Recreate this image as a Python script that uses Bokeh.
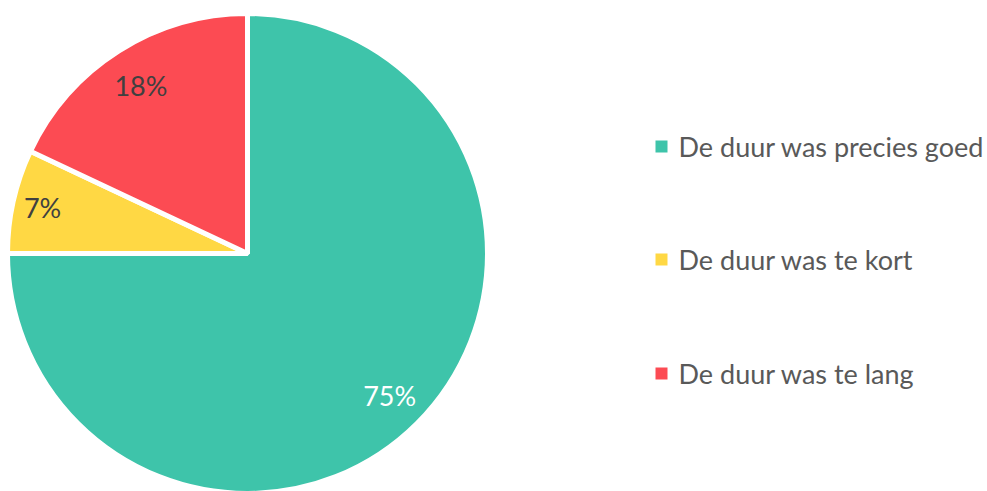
import math
from bokeh.plotting import figure
from bokeh.models import Range1d, ColumnDataSource
from bokeh.core.properties import value
from bokeh.embed import file_html
from bokeh.resources import INLINE

# ---- data ----
categories = ["De duur was precies goed", "De duur was te kort", "De duur was te lang"]
shares = [75, 7, 18]
labels = ["75%", "7%", "18%"]
colors = ["#3EC4AA", "#FFD844", "#FC4B53"]
label_colors = ["#FFFFFF", "#404040", "#404040"]

# ---- layout (page pixel based) ----
W, H = 987, 491
PAGE_H = 491
cx, cy_page, R = 247, 253, 240
cy = PAGE_H - cy_page
FONT = "Lato"
FS = "27px"

p = figure(width=W, height=H, output_backend="svg", toolbar_location=None,
           x_range=Range1d(0, W), y_range=Range1d(PAGE_H - H, PAGE_H))
p.axis.visible = False
p.grid.visible = False
p.outline_line_color = None
p.min_border = 0
p.background_fill_color = "white"

total = sum(shares)
starts, ends, mids = [], [], []
a = math.pi / 2
for s in shares:
    sweep = 2 * math.pi * s / total
    starts.append(a)
    ends.append(a - sweep)
    mids.append(a - sweep / 2)
    a -= sweep

src = ColumnDataSource(dict(start=starts, end=ends, color=colors))
p.wedge(x=cx, y=cy, radius=R, start_angle="start", end_angle="end", direction="clock",
        fill_color="color", line_color="white", line_width=5, source=src)

lr = [201, 210, 199]
lx = [cx + r * math.cos(m) for r, m in zip(lr, mids)]
ly = [cy + r * math.sin(m) for r, m in zip(lr, mids)]
p.text(x=lx, y=ly, text=labels, text_color=label_colors, text_font=value(FONT),
       text_font_size=FS, text_align="center", text_baseline="middle")

# legend
leg_y_page = [146, 259, 373]
leg_y = [PAGE_H - v for v in leg_y_page]
p.scatter(x=[661] * 3, y=leg_y, marker="square", size=12, fill_color=colors, line_color=None)
p.text(x=[678] * 3, y=leg_y, text=categories, text_color="#595959", text_font=value(FONT),
       text_font_size=FS, text_align="left", text_baseline="middle")

open("out.html", "w").write(file_html(p, INLINE))
